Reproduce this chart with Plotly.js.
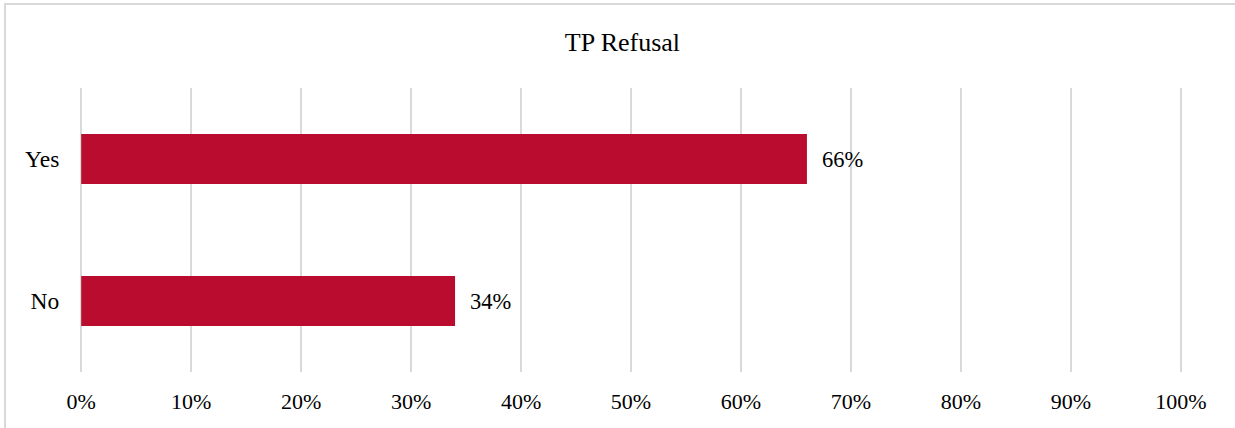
<!DOCTYPE html>
<html>
<head>
<meta charset="utf-8">
<script src="https://cdn.plot.ly/plotly-3.0.1.min.js"></script>
<style>
  html, body { margin: 0; padding: 0; background: #fff; }
  #wrap { position: relative; width: 1235px; height: 428px; }
  #chart { width: 1235px; height: 428px; }
  #frame { position: absolute; left: 4px; top: 3px; width: 1231px; height: 425px;
           border-left: 2px solid #d9d9d9; border-top: 2px solid #d9d9d9;
           box-sizing: border-box; pointer-events: none; }
</style>
</head>
<body>
<div id="wrap">
  <div id="chart"></div>
  <div id="frame"></div>
</div>
<script>
const categories = ["No", "Yes"];
const values = [34, 66];
const tickValues = [0, 10, 20, 30, 40, 50, 60, 70, 80, 90, 100];
const tickLabels = ["0%", "10%", "20%", "30%", "40%", "50%", "60%", "70%", "80%", "90%", "100%"];

const FAM = 'Liberation Serif, Times New Roman, serif';

const trace = {
  type: 'bar',
  orientation: 'h',
  x: values,
  y: categories,
  width: 0.352,
  marker: { color: '#BA0C2F' },
  hoverinfo: 'none'
};

const annotations = values.map((v, i) => ({
  x: v, y: categories[i], xref: 'x', yref: 'y',
  text: v + '%', showarrow: false, xanchor: 'left', yanchor: 'middle',
  xshift: 13, font: { family: FAM, size: 22.5, color: '#000000' }
}));

const layout = {
  width: 1235, height: 428,
  font: { family: FAM, size: 22, color: '#000000' },
  margin: { l: 79, r: 52, t: 88, b: 56 },
  paper_bgcolor: 'rgba(0,0,0,0)',
  plot_bgcolor: 'rgba(0,0,0,0)',
  showlegend: false,
  title: { text: 'TP Refusal', x: 0.504, xanchor: 'center', y: 0.902, yanchor: 'middle', yref: 'container',
           font: { family: FAM, size: 26, color: '#000000' } },
  xaxis: {
    range: [-0.2, 100.2], tickvals: tickValues, ticktext: tickLabels,
    showgrid: true, gridcolor: '#d9d9d9', gridwidth: 1.5,
    zeroline: false, showline: false,
    ticks: 'outside', ticklen: 10, tickcolor: 'rgba(0,0,0,0)',
    tickfont: { family: FAM, size: 22, color: '#000000' },
    fixedrange: true
  },
  yaxis: {
    categoryorder: 'array', categoryarray: categories,
    showgrid: false, zeroline: false, showline: false,
    ticks: 'outside', ticklen: 14, tickcolor: 'rgba(0,0,0,0)',
    tickfont: { family: FAM, size: 23.5, color: '#000000' },
    fixedrange: true
  },
  annotations: annotations
};

Plotly.newPlot('chart', [trace], layout, { displayModeBar: false, staticPlot: true });
</script>
</body>
</html>
